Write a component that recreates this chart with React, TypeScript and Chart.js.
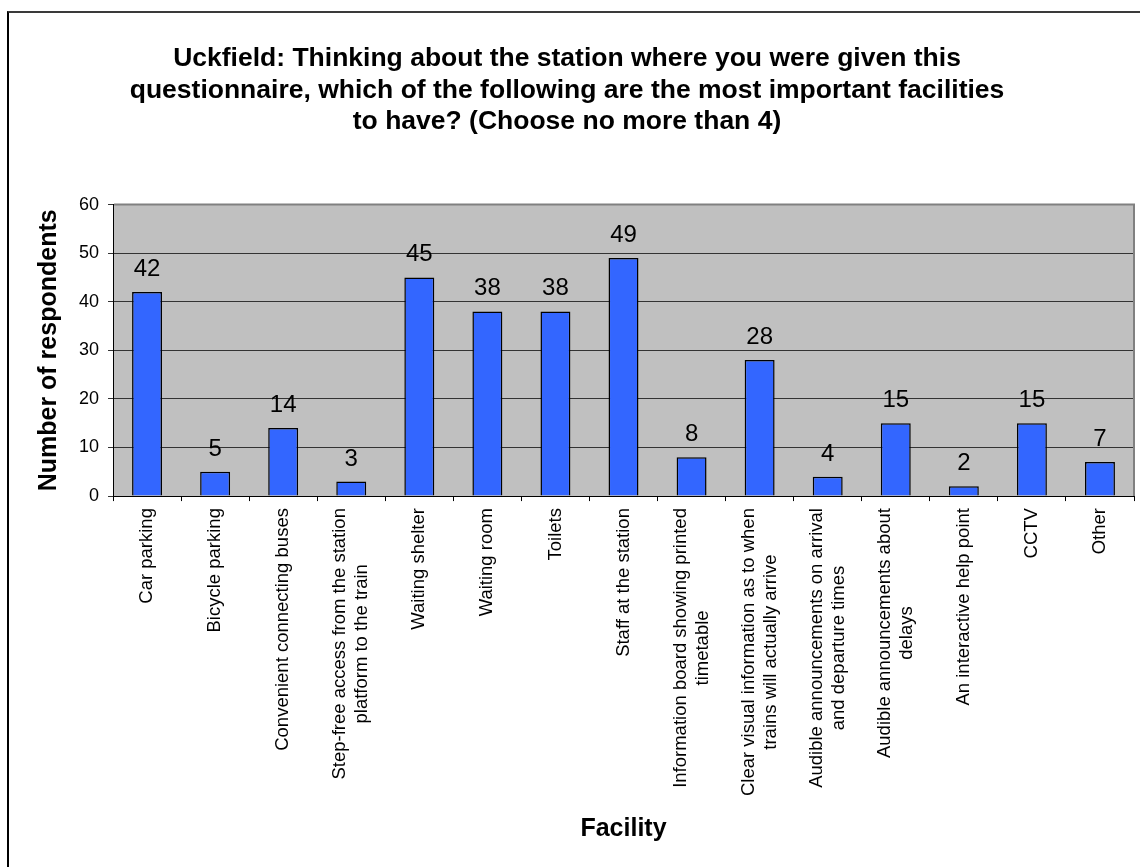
import React, { useEffect, useRef } from "react";
import { Chart, registerables } from "chart.js";

Chart.register(...registerables);

const titleLines = [
  "Uckfield: Thinking about the station where you were given this",
  "questionnaire, which of the following are the most important facilities",
  "to have? (Choose no more than 4)",
];

const categories: string[][] = [
  ["Car parking"],
  ["Bicycle parking"],
  ["Convenient connecting buses"],
  ["Step-free access from the station", "platform to the train"],
  ["Waiting shelter"],
  ["Waiting room"],
  ["Toilets"],
  ["Staff at the station"],
  ["Information board showing printed", "timetable"],
  ["Clear visual information as to when", "trains will actually arrive"],
  ["Audible announcements on arrival", "and departure times"],
  ["Audible announcements about", "delays"],
  ["An interactive help point"],
  ["CCTV"],
  ["Other"],
];

const respondents = [42, 5, 14, 3, 45, 38, 38, 49, 8, 28, 4, 15, 2, 15, 7];

const yMin = 0;
const yMax = 60;
const yStep = 10;

const xTitle = "Facility";
const yTitle = "Number of respondents";

const FONT = "'Liberation Sans', Arial, Helvetica, sans-serif";
const X_LABEL_SIZE = 18.5;
const X_LABEL_LINE = 22;
const X_TICK_LEN = 5;
const X_TICK_PAD = 7;

const plotPlugin = {
  id: "plotDecor",
  beforeDraw(chart: any) {
    const { ctx, chartArea } = chart;
    ctx.save();
    ctx.fillStyle = "#C0C0C0";
    ctx.fillRect(chartArea.left, chartArea.top, chartArea.right - chartArea.left, chartArea.bottom - chartArea.top);
    ctx.restore();
  },
  afterDraw(chart: any) {
    const { ctx, chartArea } = chart;
    // gray top/right plot border
    ctx.save();
    ctx.strokeStyle = "#808080";
    ctx.lineWidth = 2;
    ctx.beginPath();
    ctx.moveTo(chartArea.left + 1, chartArea.top);
    ctx.lineTo(chartArea.right, chartArea.top);
    ctx.lineTo(chartArea.right, chartArea.bottom);
    ctx.stroke();
    ctx.restore();

    // value labels
    const meta = chart.getDatasetMeta(0);
    const data = chart.data.datasets[0].data;
    ctx.save();
    ctx.fillStyle = "#000";
    ctx.font = `24px ${FONT}`;
    ctx.textAlign = "center";
    ctx.textBaseline = "alphabetic";
    meta.data.forEach((bar: any, i: number) => {
      ctx.fillText(String(data[i]), bar.x, bar.y - 16);
    });
    ctx.restore();

    // x tick labels, rotated, lines centred on each other
    const xs = chart.scales.x;
    ctx.save();
    ctx.fillStyle = "#000";
    ctx.font = `${X_LABEL_SIZE}px ${FONT}`;
    ctx.textAlign = "center";
    ctx.textBaseline = "middle";
    const yStart = xs.top + X_TICK_LEN + X_TICK_PAD;
    const labels = chart.data.labels as string[][];
    labels.forEach((lines, i) => {
      const x = xs.getPixelForTick(i);
      const maxW = Math.max(...lines.map((l) => ctx.measureText(l).width));
      ctx.save();
      ctx.translate(x, yStart);
      ctx.rotate(-Math.PI / 2);
      lines.forEach((line, j) => {
        const off = (j - (lines.length - 1) / 2) * X_LABEL_LINE;
        ctx.fillText(line, -maxW / 2, off);
      });
      ctx.restore();
    });
    ctx.restore();
  },
};

export default function App() {
  const ref = useRef<HTMLCanvasElement | null>(null);

  useEffect(() => {
    if (!ref.current) return;
    Chart.defaults.font.family = FONT;
    Chart.defaults.color = "#000";
    const chart = new Chart(ref.current, {
      type: "bar",
      data: {
        labels: categories,
        datasets: [
          {
            data: respondents,
            backgroundColor: "#3366FF",
            borderColor: "#000000",
            borderWidth: 1.5,
            barPercentage: 0.44,
            categoryPercentage: 1,
          },
        ],
      },
      options: {
        animation: false,
        responsive: false,
        devicePixelRatio: 1,
        layout: { padding: { left: 0, right: 6, top: 0, bottom: 10 } },
        plugins: {
          legend: { display: false },
          tooltip: { enabled: false },
          title: {
            display: true,
            text: titleLines,
            color: "#000",
            font: { size: 26.5, weight: "bold", lineHeight: 1.19 },
            padding: { top: 43, bottom: 67 },
          },
        },
        scales: {
          x: {
            offset: true,
            grid: {
              offset: true,
              drawOnChartArea: false,
              tickLength: X_TICK_LEN,
              color: "#000",
            },
            border: { display: true, color: "#000", width: 1 },
            ticks: {
              autoSkip: false,
              maxRotation: 90,
              minRotation: 90,
              padding: X_TICK_PAD,
              color: "rgba(0,0,0,0)",
              font: { size: X_LABEL_SIZE, lineHeight: X_LABEL_LINE / X_LABEL_SIZE },
            },
            title: {
              display: true,
              text: xTitle,
              color: "#000",
              font: { size: 25, weight: "bold", lineHeight: 1.2 },
              padding: { top: 11, bottom: 13 },
            },
          },
          y: {
            min: yMin,
            max: yMax,
            ticks: {
              stepSize: yStep,
              padding: 9,
              color: "#000",
              font: { size: 18 },
            },
            grid: {
              color: "#333333",
              lineWidth: 1,
              tickLength: 5,
            },
            border: { display: true, color: "#000", width: 1 },
            title: {
              display: true,
              text: yTitle,
              color: "#000",
              font: { size: 25, weight: "bold", lineHeight: 1.2 },
              padding: { top: 34, bottom: 6 },
            },
          },
        },
      },
      plugins: [plotPlugin],
    });
    return () => chart.destroy();
  }, []);

  return (
    <>
      <div
        style={{
          position: "fixed",
          left: 7,
          top: 11,
          right: -20,
          bottom: -20,
          borderTop: "2px solid #3a3a3a",
          borderLeft: "2px solid #000",
          pointerEvents: "none",
        }}
      />
      <canvas
        ref={ref}
        width={1140}
        height={867}
        style={{ position: "fixed", left: 0, top: 0, width: 1140, height: 867, display: "block" }}
      />
    </>
  );
}
